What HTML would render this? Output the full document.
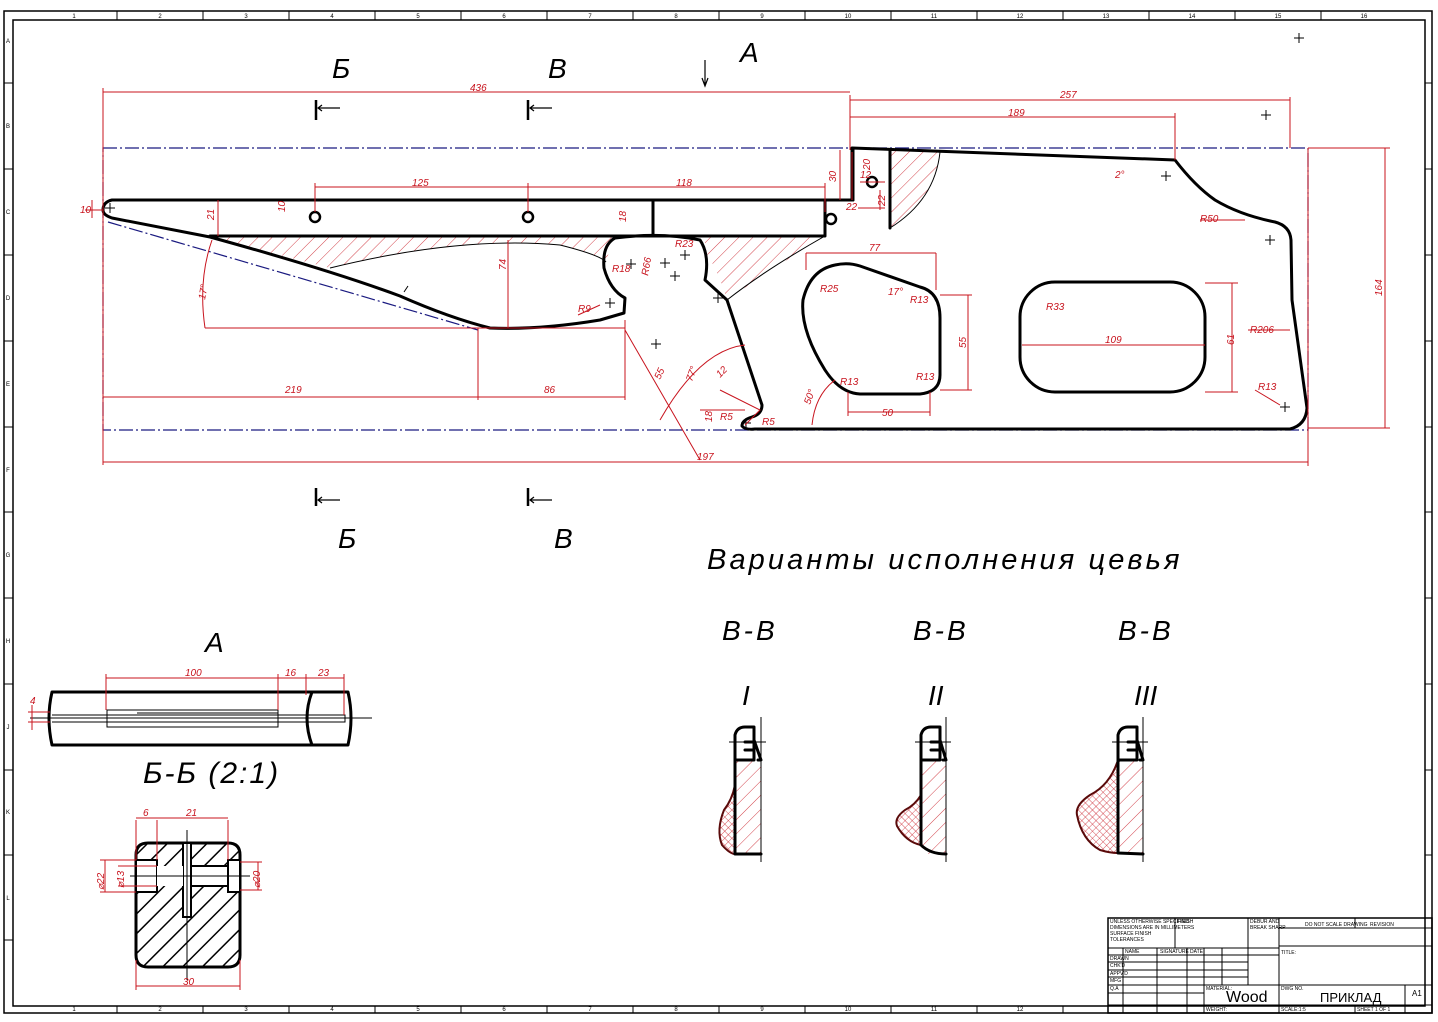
<!DOCTYPE html>
<html><head><meta charset="utf-8"><style>
html,body{margin:0;padding:0;background:#fff}
svg{display:block}
text{font-family:"Liberation Sans",sans-serif}
.r{stroke:#c8141e;stroke-width:1;fill:none}
.rt{fill:#c8141e;font-style:italic;font-size:10px}
.k{stroke:#000;stroke-width:3;fill:none;stroke-linejoin:round;stroke-linecap:round}
.t{stroke:#000;stroke-width:1;fill:none}
.b{stroke:#1a1a80;stroke-width:1.2;fill:none;stroke-dasharray:14 3 2 3}
.big{font-style:italic;font-size:28px;fill:#000}
</style></head><body>
<svg width="1438" height="1022" viewBox="0 0 1438 1022" xmlns="http://www.w3.org/2000/svg">
<defs>
<pattern id="h" width="10" height="10" patternUnits="userSpaceOnUse" patternTransform="rotate(45)"><line x1="0" y1="0" x2="0" y2="10" stroke="#c8141e" stroke-width="0.8"/></pattern>
<pattern id="hb" width="14" height="14" patternUnits="userSpaceOnUse" patternTransform="rotate(45)"><line x1="0" y1="0" x2="0" y2="14" stroke="#000" stroke-width="3"/></pattern>
<pattern id="x" width="5" height="5" patternUnits="userSpaceOnUse" patternTransform="rotate(45)"><path d="M0 0V5M0 0H5" stroke="#c8141e" stroke-width="0.7"/></pattern>
</defs>
<rect x="4" y="11" width="1428" height="1002" fill="none" stroke="#000" stroke-width="1.5"/>
<rect x="13" y="20" width="1412" height="986" fill="none" stroke="#000" stroke-width="1.5"/>
<g stroke="#000" stroke-width="1">
<path d="M117 11V20M203 11V20M289 11V20M375 11V20M461 11V20M547 11V20M633 11V20M719 11V20M805 11V20M891 11V20M977 11V20M1063 11V20M1149 11V20M1235 11V20M1321 11V20"/>
<path d="M117 1006V1013M203 1006V1013M289 1006V1013M375 1006V1013M461 1006V1013M547 1006V1013M633 1006V1013M719 1006V1013M805 1006V1013M891 1006V1013M977 1006V1013M1063 1006V1013"/>
<path d="M4 83H13M4 169H13M4 255H13M4 341H13M4 427H13M4 512H13M4 598H13M4 684H13M4 770H13M4 855H13M4 940H13"/>
<path d="M1425 83H1432M1425 169H1432M1425 255H1432M1425 341H1432M1425 427H1432M1425 512H1432M1425 598H1432M1425 684H1432M1425 770H1432M1425 855H1432"/>
</g>
<g font-size="6" fill="#000" text-anchor="middle">
<text x="74" y="18">1</text><text x="160" y="18">2</text><text x="246" y="18">3</text><text x="332" y="18">4</text><text x="418" y="18">5</text><text x="504" y="18">6</text><text x="590" y="18">7</text><text x="676" y="18">8</text><text x="762" y="18">9</text><text x="848" y="18">10</text><text x="934" y="18">11</text><text x="1020" y="18">12</text><text x="1106" y="18">13</text><text x="1192" y="18">14</text><text x="1278" y="18">15</text><text x="1364" y="18">16</text>
<text x="8" y="43">A</text><text x="8" y="128">B</text><text x="8" y="214">C</text><text x="8" y="300">D</text><text x="8" y="386">E</text><text x="8" y="472">F</text><text x="8" y="557">G</text><text x="8" y="643">H</text><text x="8" y="729">J</text><text x="8" y="814">K</text><text x="8" y="900">L</text>
<text x="74" y="1011">1</text><text x="160" y="1011">2</text><text x="246" y="1011">3</text><text x="332" y="1011">4</text><text x="418" y="1011">5</text><text x="504" y="1011">6</text><text x="590" y="1011">7</text><text x="676" y="1011">8</text><text x="762" y="1011">9</text><text x="848" y="1011">10</text><text x="934" y="1011">11</text><text x="1020" y="1011">12</text>
</g>

<path class="b" d="M103 148H1308V430H103Z"/>
<path class="b" d="M108 222L478 330"/>

<path d="M210 237L330 268Q460 236 560 245Q600 255 606 262L612 242Q620 237 630 236Z" fill="url(#h)"/>
<path d="M705 250Q720 275 727 300Q770 270 825 236L705 236Z" fill="url(#h)"/>
<path d="M890 150L940 152Q935 200 890 228Z" fill="url(#h)"/>
<path class="t" d="M330 268Q460 236 560 245Q600 255 606 262"/>
<path class="t" d="M727 300Q765 270 825 236"/>
<path class="t" d="M890 228Q935 200 940 152"/>

<path class="k" d="M853 200H112Q103 202 103 210Q103 215 112 218L210 237Q330 270 400 296Q450 318 490 328Q540 330 600 320L624 313L625 298Q610 290 604 268Q602 245 615 238Q660 232 700 240Q710 255 705 280L727 300L762 405Q762 414 752 417Q742 420 742 426Q745 430 755 429H1290Q1306 425 1307 408L1292 300L1291 240Q1290 226 1275 222Q1240 215 1215 200Q1195 186 1175 160L852 148V200"/>
<path class="k" d="M853 150V200"/>
<path class="k" d="M890 150V228"/>
<path class="k" d="M210 236H825V200"/>
<path class="k" d="M653 200V236"/>
<path class="k" d="M835 265Q810 270 803 300Q800 330 825 370Q840 393 860 394H920Q940 392 940 375V318Q940 292 920 287L860 266Q848 262 835 265Z"/>
<rect class="k" x="1020" y="282" width="185" height="110" rx="35"/>
<g fill="none" stroke="#000" stroke-width="2.5"><circle cx="315" cy="217" r="5"/><circle cx="528" cy="217" r="5"/><circle cx="831" cy="219" r="5"/><circle cx="872" cy="182" r="5"/></g>
<path class="t" d="M404 292l4 -6"/>
<g class="t"><path d="M105 208h10M110 203v10M626 264h10M631 259v10M660 263h10M665 258v10M680 255h10M685 250v10M670 276h10M675 271v10M713 298h10M718 293v10M651 344h10M656 339v10M741 423h10M746 418v10M1161 176h10M1166 171v10M1261 115h10M1266 110v10M1294 38h10M1299 33v10M1265 240h10M1270 235v10M1280 407h10M1285 402v10M605 303h10M610 298v10"/></g>

<g class="r">
<path d="M103 88V465M850 95V150M1290 97V148M1308 148V466M1175 113V160"/>
<path d="M103 92H850M850 100H1290M850 117H1175M103 462H1308"/>
<path d="M315 183V212M528 183V212M315 187H825M825 183V212"/>
<path d="M103 397H625M478 328V400M625 320V400M205 328H625"/>
<path d="M1308 148H1390M1308 428H1390M1385 148V428"/>
<path d="M940 295H972M940 390H972M968 295V390"/>
<path d="M1205 283H1238M1205 392H1238M1232 283V392M1022 345H1205"/>
<path d="M806 253H936M806 253V270M936 253V290M848 412H930M848 392V416M930 392V416"/>
<path d="M852 152V200M840 150V200M860 182H885M858 208H885M880 190V210"/>
<path d="M92 200V218M85 210H103M218 200V236M508 240V328"/>
<path d="M205 328Q198 280 212 240"/>
<path d="M625 330L700 460M660 420Q700 350 745 345M812 425Q815 395 835 380"/>
<path d="M720 390L760 410L745 425M700 410H745M578 315L600 305"/>
<path d="M1248 330H1290M1255 390L1280 405M1200 220L1245 220"/>
</g>
<g class="rt">
<text x="470" y="91">436</text><text x="1060" y="98">257</text><text x="1008" y="116">189</text>
<text x="412" y="186">125</text><text x="676" y="186">118</text>
<text x="285" y="393">219</text><text x="544" y="393">86</text><text x="697" y="460">197</text>
<text x="869" y="251">77</text><text x="882" y="416">50</text><text x="1105" y="343">109</text>
<text x="1115" y="178">2°</text><text x="888" y="295">17°</text><text x="1200" y="222">R50</text>
<text x="1250" y="333">R206</text><text x="1258" y="390">R13</text><text x="578" y="312">R9</text>
<text x="820" y="292">R25</text><text x="720" y="420">R5</text><text x="762" y="425">R5</text>
<text x="80" y="213">10</text><text x="860" y="178">12</text><text x="846" y="210">22</text>
<text x="675" y="247">R23</text><text x="612" y="272">R18</text><text x="840" y="385">R13</text><text x="916" y="380">R13</text><text x="910" y="303">R13</text>
<text x="1046" y="310">R33</text>
<text transform="translate(966 348) rotate(-90)">55</text>
<text transform="translate(1234 345) rotate(-90)">61</text>
<text transform="translate(1382 296) rotate(-90)">164</text>
<text transform="translate(214 220) rotate(-90)">21</text>
<text transform="translate(626 222) rotate(-90)">18</text>
<text transform="translate(285 212) rotate(-90)">10</text>
<text transform="translate(836 182) rotate(-90)">30</text>
<text transform="translate(870 170) rotate(-90)">20</text>
<text transform="translate(885 206) rotate(-90)">22</text>
<text transform="translate(506 270) rotate(-90)">74</text>
<text transform="translate(205 300) rotate(-80)">17°</text>
<text transform="translate(660 380) rotate(-65)">55</text>
<text transform="translate(692 382) rotate(-70)">77°</text>
<text transform="translate(810 405) rotate(-70)">50°</text>
<text transform="translate(712 422) rotate(-90)">18</text>
<text transform="translate(720 378) rotate(-45)">12</text>
<text transform="translate(648 276) rotate(-80)">R66</text>
</g>

<g stroke="#000" stroke-width="2.5" fill="none"><path d="M316 100V120M528 100V120M316 488V506M528 488V506"/></g>
<g stroke="#000" stroke-width="1.2" fill="none"><path d="M318 108H340M322 105L318 108L322 111M530 108H552M534 105L530 108L534 111M318 500H340M322 497L318 500L322 503M530 500H552M534 497L530 500L534 503M705 60V85M702 78L705 86L708 78"/></g>
<g class="big"><text x="332" y="78">Б</text><text x="548" y="78">В</text><text x="740" y="62">А</text><text x="338" y="548">Б</text><text x="554" y="548">В</text>
<text x="707" y="569" font-size="29" letter-spacing="3.1">Варианты исполнения цевья</text>
<text x="722" y="640" letter-spacing="3">В-В</text><text x="913" y="640" letter-spacing="3">В-В</text><text x="1118" y="640" letter-spacing="3">В-В</text>
<text x="742" y="705">I</text><text x="928" y="705">II</text><text x="1134" y="705">III</text>
<text x="205" y="652">А</text><text x="143" y="783" font-size="30" letter-spacing="2">Б-Б (2:1)</text></g>

<path class="k" d="M52 692H348Q354 718 348 745H52Q46 718 52 692Z"/>
<path class="k" d="M312 692Q302 718 312 745"/>
<path class="t" stroke-width="2" d="M52 715H345V722H52M107 710H278V727H107ZM137 713H278"/>
<path class="t" d="M30 718H372"/>
<g class="r"><path d="M106 678H344M106 674V710M278 674V710M306 674V695M344 674V715M28 712H50M28 722H50M32 705V730"/></g>
<g class="rt"><text x="185" y="676">100</text><text x="285" y="676">16</text><text x="318" y="676">23</text><text x="30" y="704">4</text></g>

<path d="M148 843H228Q240 843 240 855V955Q240 967 228 967H148Q136 967 136 955V855Q136 843 148 843Z" fill="url(#hb)" stroke="#000" stroke-width="3"/>
<rect x="183" y="843" width="8" height="74" fill="#fff" stroke="#000" stroke-width="2"/>
<rect x="136" y="860" width="21" height="32" fill="#fff" stroke="#000" stroke-width="2"/>
<rect x="157" y="866" width="26" height="20" fill="#fff" stroke="none"/>
<rect x="191" y="866" width="37" height="20" fill="#fff" stroke="#000" stroke-width="2"/>
<rect x="228" y="860" width="12" height="32" fill="#fff" stroke="#000" stroke-width="2"/>
<path class="t" d="M130 876H250M187 830V980"/>
<g class="r"><path d="M136 820V860M157 820V860M228 820V860M136 818H228M100 860H136M100 892H136M118 866H157M118 886H157M240 862H262M240 890H262M258 862V890M105 860V892M136 960V990M240 960V990M136 986H240"/></g>
<g class="rt"><text x="143" y="816">6</text><text x="186" y="816">21</text><text x="183" y="985">30</text>
<text transform="translate(104 890) rotate(-90)">⌀22</text><text transform="translate(124 888) rotate(-90)">⌀13</text><text transform="translate(260 888) rotate(-90)">⌀20</text></g>

<g>
<path d="M735 785Q732 800 724 810Q716 830 722 845Q730 854 735 854Z" fill="url(#x)" stroke="#5a0a0a" stroke-width="2"/>
<path d="M735 760H761V854H735Z" fill="url(#h)"/>
<path class="k" d="M735 854V735Q737 727 745 727H754V760H735M745 742H754M745 750H754M754 740L761 760H758M735 854H761"/>
<path class="t" d="M761 717V862M729 742H766"/>
</g>
<g>
<path d="M921 795Q915 805 905 810Q894 818 897 826Q906 842 921 845Z" fill="url(#x)" stroke="#5a0a0a" stroke-width="2"/>
<path d="M921 760H946V854H921Z" fill="url(#h)"/>
<path class="k" d="M921 845V735Q923 727 931 727H940V760H921M931 742H940M931 750H940M940 740L946 760H943M921 845Q930 854 946 854"/>
<path class="t" d="M946 717V862M915 742H951"/>
</g>
<g>
<path d="M1118 760Q1110 785 1090 795Q1075 805 1077 815Q1082 840 1100 850Q1110 853 1118 853Z" fill="url(#x)" stroke="#5a0a0a" stroke-width="2"/>
<path d="M1118 760H1143V854H1118Z" fill="url(#h)"/>
<path class="k" d="M1118 853V735Q1120 727 1128 727H1137V760H1118M1128 742H1137M1128 750H1137M1137 740L1143 760H1140M1118 853L1143 854"/>
<path class="t" d="M1143 717V862M1112 742H1148"/>
</g>

<g stroke="#000" stroke-width="1" fill="none">
<rect x="1108" y="918" width="324" height="95" stroke-width="1.5"/>
<path d="M1279 918V1013M1279 928H1432M1279 946H1432M1108 948H1279M1108 955H1279M1108 962H1248M1108 970H1248M1108 977H1248M1108 985H1432M1108 993H1204M1108 1005H1432M1355 918V928M1405 985V1013M1355 1005V1013"/>
<path d="M1123 948V1013M1157 948V1013M1187 948V1013M1204 948V1013M1222 948V985M1248 918V985M1175 918V948"/>
</g>
<g font-size="5" fill="#000">
<text x="1110" y="923">UNLESS OTHERWISE SPECIFIED</text><text x="1110" y="929">DIMENSIONS ARE IN MILLIMETERS</text><text x="1110" y="935">SURFACE FINISH</text><text x="1110" y="941">TOLERANCES</text>
<text x="1177" y="923">FINISH</text><text x="1250" y="923">DEBUR AND</text><text x="1250" y="929">BREAK SHARP</text>
<text x="1305" y="926">DO NOT SCALE DRAWING</text><text x="1370" y="926">REVISION</text><text x="1281" y="954">TITLE:</text>
<text x="1125" y="953">NAME</text><text x="1160" y="953">SIGNATURE</text><text x="1190" y="953">DATE</text>
<text x="1110" y="960">DRAWN</text><text x="1110" y="967">CHK'D</text><text x="1110" y="975">APPV'D</text><text x="1110" y="982">MFG</text><text x="1110" y="990">Q.A</text>
<text x="1206" y="990">MATERIAL:</text><text x="1206" y="1011">WEIGHT:</text><text x="1281" y="990">DWG NO.</text><text x="1281" y="1011">SCALE:1:5</text><text x="1357" y="1011">SHEET 1 OF 1</text>
</g>
<text x="1226" y="1002" font-size="16" fill="#000">Wood</text>
<text x="1320" y="1002" font-size="13" fill="#000">ПРИКЛАД</text>
<text x="1412" y="996" font-size="8" fill="#000">A1</text>
</svg>
</body></html>
